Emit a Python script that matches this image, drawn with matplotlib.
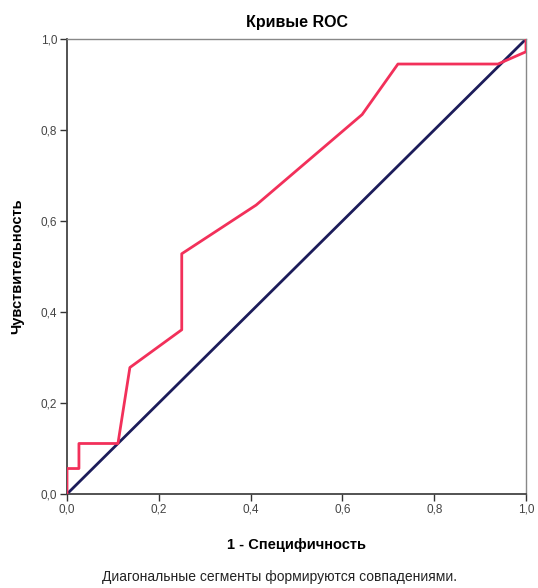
import matplotlib
matplotlib.use("Agg")
import matplotlib.pyplot as plt

fpr = [0.0, 0.0, 0.026, 0.026, 0.111, 0.137, 0.25, 0.25, 0.412, 0.643, 0.721, 0.939, 1.0, 1.0]
tpr = [0.0, 0.056, 0.056, 0.111, 0.111, 0.278, 0.361, 0.528, 0.635, 0.834, 0.945, 0.945, 0.972, 1.0]
ref_x = [0.0, 1.0]
ref_y = [0.0, 1.0]
ticks = [0.0, 0.2, 0.4, 0.6, 0.8, 1.0]
tick_labels = ["0,0", "0,2", "0,4", "0,6", "0,8", "1,0"]

plt.rcParams['font.family'] = ['Liberation Sans', 'DejaVu Sans']
fig = plt.figure(figsize=(5.38, 5.88), dpi=100)
ax = fig.add_axes([67/538, 1-494/588, (526-67)/538, (494-39)/588])

ax.plot(ref_x, ref_y, color='#1c1c5a', lw=2.0, zorder=2)
ax.plot(fpr, tpr, color='#f2305a', lw=2.0, zorder=3)

ax.set_xlim(0, 1)
ax.set_ylim(0, 1)
ax.set_xticks(ticks)
ax.set_xticklabels(tick_labels)
ax.set_yticks(ticks)
ax.set_yticklabels(tick_labels)
ax.tick_params(direction='out', length=5, width=1, colors='#333333', labelsize=8.5, labelcolor='#444444', pad=2)
for s in ['left', 'bottom']:
    ax.spines[s].set_color('#444444')
    ax.spines[s].set_linewidth(1.3)
for s in ['top', 'right']:
    ax.spines[s].set_color('#888888')
    ax.spines[s].set_linewidth(1.0)

ax.set_title('Кривые ROC', fontsize=11.5, fontweight='bold', pad=9)
ax.set_xlabel('1 - Специфичность', fontsize=10.5, fontweight='bold', labelpad=16)
ax.set_ylabel('Чувствительность', fontsize=10.5, fontweight='bold', labelpad=12)
fig.text(280/538, 1-577/588, 'Диагональные сегменты формируются совпадениями.', ha='center', va='center', fontsize=10, color='#222222')

fig.savefig('out.png', dpi=100)
